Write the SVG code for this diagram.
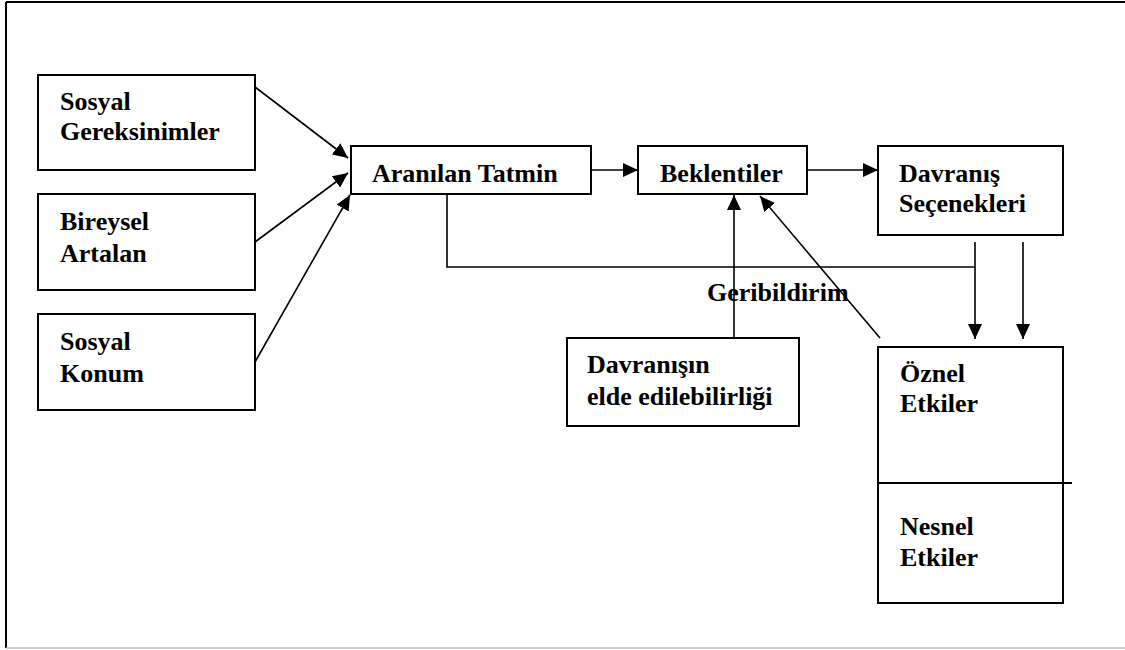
<svg xmlns="http://www.w3.org/2000/svg" width="1125" height="650" viewBox="0 0 1125 650">
<style>
.box{fill:#fff;stroke:#000;stroke-width:2}
.t{font-family:"Liberation Serif","Times New Roman",serif;font-weight:bold;font-size:26px;fill:#000}
.c{fill:none;stroke:#000;stroke-width:1.6}
</style>
<defs>
<marker id="ah" markerUnits="userSpaceOnUse" markerWidth="16" markerHeight="14" refX="15" refY="7" orient="auto">
<path d="M0,0 L15,7 L0,14 Z" fill="#000"/>
</marker>
</defs>
<rect width="1125" height="650" fill="#fff"/>
<g id="frame">
<line x1="6" y1="2" x2="1125" y2="2" stroke="#000" stroke-width="2"/>
<line x1="6" y1="2" x2="6" y2="648" stroke="#000" stroke-width="2"/>
<line x1="6" y1="648" x2="1125" y2="648" stroke="#bbb" stroke-width="1.5"/>
</g>
<g id="connectors">
<line class="c" x1="255" y1="87" x2="348" y2="158" marker-end="url(#ah)"/>
<line class="c" x1="255" y1="242" x2="348" y2="173" marker-end="url(#ah)"/>
<line class="c" x1="255" y1="362" x2="350" y2="195" marker-end="url(#ah)"/>
<line class="c" x1="591" y1="170" x2="638" y2="170" marker-end="url(#ah)"/>
<line class="c" x1="807" y1="170" x2="878" y2="170" marker-end="url(#ah)"/>
<line class="c" x1="734" y1="338" x2="734" y2="195" marker-end="url(#ah)"/>
<line class="c" x1="880" y1="338" x2="760" y2="196" marker-end="url(#ah)"/>
<polyline class="c" points="447,194 447,267 975,267"/>
<line class="c" x1="975" y1="242" x2="975" y2="339" marker-end="url(#ah)"/>
<line class="c" x1="1023" y1="242" x2="1023" y2="339" marker-end="url(#ah)"/>
<text class="t" x="707" y="301">Geribildirim</text>
</g>
<g id="sosyal-gereksinimler">
<rect class="box" x="38" y="75" width="217" height="95"/>
<text class="t" x="60" y="110">Sosyal</text>
<text class="t" x="60" y="140">Gereksinimler</text>
</g>
<g id="bireysel-artalan">
<rect class="box" x="38" y="194" width="217" height="96"/>
<text class="t" x="60" y="230">Bireysel</text>
<text class="t" x="60" y="262">Artalan</text>
</g>
<g id="sosyal-konum">
<rect class="box" x="38" y="314" width="217" height="96"/>
<text class="t" x="60" y="350">Sosyal</text>
<text class="t" x="60" y="382">Konum</text>
</g>
<g id="aranilan-tatmin">
<rect class="box" x="351" y="146" width="240" height="48"/>
<text class="t" x="372" y="182">Aranılan Tatmin</text>
</g>
<g id="beklentiler">
<rect class="box" x="638" y="146" width="169" height="48"/>
<text class="t" x="660" y="182">Beklentiler</text>
</g>
<g id="davranis-secenekleri">
<rect class="box" x="878" y="146" width="185" height="89"/>
<text class="t" x="899" y="182">Davranış</text>
<text class="t" x="899" y="212">Seçenekleri</text>
</g>
<g id="davranisin-elde">
<rect class="box" x="567" y="338" width="232" height="88"/>
<text class="t" x="587" y="373">Davranışın</text>
<text class="t" x="587" y="405">elde edilebilirliği</text>
</g>
<g id="etkiler">
<rect class="box" x="878" y="347" width="185" height="256"/>
<line x1="878" y1="483" x2="1072" y2="483" stroke="#000" stroke-width="2"/>
<text class="t" x="900" y="382">Öznel</text>
<text class="t" x="900" y="412">Etkiler</text>
<text class="t" x="900" y="535">Nesnel</text>
<text class="t" x="900" y="566">Etkiler</text>
</g>
</svg>
